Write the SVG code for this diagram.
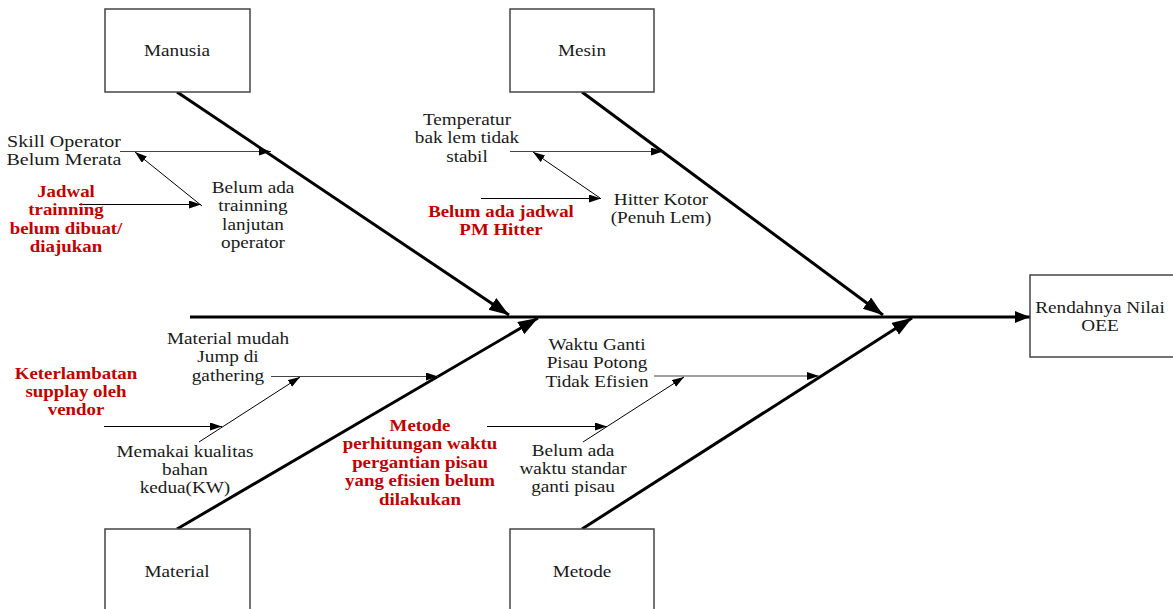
<svg xmlns="http://www.w3.org/2000/svg" width="1173" height="609" viewBox="0 0 1173 609">
<style>
  .box{fill:#fff;stroke:#444;stroke-width:1.5}
  .t{font-family:"Liberation Serif","Times New Roman",serif;font-size:16px;fill:#1a1a1a;text-anchor:middle}
  .r{font-family:"Liberation Serif","Times New Roman",serif;font-size:16px;font-weight:bold;fill:#c00000;text-anchor:middle}
  .bone{stroke:#000;stroke-width:3;fill:none}
  .sub{stroke:#444;stroke-width:1.2;fill:none}
  .arr{stroke:#000;stroke-width:1;fill:none}
</style>
<defs>
  <marker id="big" markerUnits="userSpaceOnUse" markerWidth="22" markerHeight="16" refX="20" refY="7" orient="auto">
    <path d="M0,0 L20,7 L0,14 z" fill="#000"/>
  </marker>
  <marker id="head" markerUnits="userSpaceOnUse" markerWidth="16" markerHeight="14" refX="15" refY="6" orient="auto">
    <path d="M0,0 L15,6 L0,12 z" fill="#000"/>
  </marker>
  <marker id="small" markerUnits="userSpaceOnUse" markerWidth="14" markerHeight="10" refX="12" refY="4" orient="auto">
    <path d="M0,0 L12,4 L0,8 z" fill="#000"/>
  </marker>
</defs>

<g id="connectors">
  <line class="bone" x1="190" y1="317" x2="1030" y2="317" marker-end="url(#head)"/>
  <line class="bone" x1="177" y1="92" x2="509" y2="315" marker-end="url(#big)"/>
  <line class="bone" x1="582" y1="92" x2="883" y2="315" marker-end="url(#big)"/>
  <line class="bone" x1="177" y1="529" x2="538" y2="318" marker-end="url(#big)"/>
  <line class="bone" x1="582" y1="529" x2="912" y2="318" marker-end="url(#big)"/>

  <line class="sub" x1="120" y1="151.5" x2="271" y2="151.5" marker-end="url(#small)"/>
  <line class="arr" x1="202" y1="206" x2="135" y2="152" marker-end="url(#small)"/>
  <line class="arr" x1="79" y1="204.5" x2="201" y2="204.5" marker-end="url(#small)"/>

  <line class="sub" x1="510" y1="151.5" x2="663" y2="151.5" marker-end="url(#small)"/>
  <line class="arr" x1="600" y1="198" x2="533" y2="152" marker-end="url(#small)"/>
  <line class="arr" x1="481" y1="198.5" x2="601" y2="198.5" marker-end="url(#small)"/>

  <line class="sub" x1="271" y1="376.5" x2="438" y2="376.5" marker-end="url(#small)"/>
  <line class="arr" x1="199" y1="442" x2="300" y2="377" marker-end="url(#small)"/>
  <line class="arr" x1="104" y1="426.5" x2="222" y2="426.5" marker-end="url(#small)"/>

  <line class="sub" x1="654" y1="376" x2="819" y2="376" marker-end="url(#small)"/>
  <line class="arr" x1="583" y1="442" x2="684" y2="377" marker-end="url(#small)"/>
  <line class="arr" x1="487" y1="426.5" x2="607" y2="426.5" marker-end="url(#small)"/>
</g>

<g id="manusia">
  <rect class="box" x="105" y="9" width="145" height="83"/>
  <text class="t" transform="translate(177,56) scale(1.2,1)">Manusia</text>
</g>
<g id="mesin">
  <rect class="box" x="510" y="9" width="144" height="83"/>
  <text class="t" transform="translate(582,56) scale(1.2,1)">Mesin</text>
</g>
<g id="material">
  <rect class="box" x="105" y="529" width="145" height="90"/>
  <text class="t" transform="translate(177,577) scale(1.2,1)">Material</text>
</g>
<g id="metode">
  <rect class="box" x="510" y="529" width="144" height="90"/>
  <text class="t" transform="translate(582,577) scale(1.2,1)">Metode</text>
</g>
<g id="oee">
  <rect class="box" x="1030" y="275" width="150" height="82"/>
  <text class="t" transform="translate(1100,313) scale(1.2,1)"><tspan x="0">Rendahnya Nilai</tspan><tspan x="0" dy="18.5">OEE</tspan></text>
</g>

<g id="skill-operator">
  <text class="t" transform="translate(64,146.5) scale(1.25,1)"><tspan x="0">Skill Operator</tspan><tspan x="0" dy="18.5">Belum Merata</tspan></text>
</g>
<g id="jadwal-trainning">
  <text class="r" transform="translate(66,197) scale(1.18,1)"><tspan x="0">Jadwal</tspan><tspan x="0" dy="18.5">trainning</tspan><tspan x="0" dy="18.5">belum dibuat/</tspan><tspan x="0" dy="18.5">diajukan</tspan></text>
</g>
<g id="belum-ada-trainning">
  <text class="t" transform="translate(253,193) scale(1.2,1)"><tspan x="0">Belum ada</tspan><tspan x="0" dy="18.5">trainning</tspan><tspan x="0" dy="18.5">lanjutan</tspan><tspan x="0" dy="18.5">operator</tspan></text>
</g>
<g id="temperatur">
  <text class="t" transform="translate(467,125) scale(1.2,1)"><tspan x="0">Temperatur</tspan><tspan x="0" dy="18.5">bak lem tidak</tspan><tspan x="0" dy="18.5">stabil</tspan></text>
</g>
<g id="hitter-kotor">
  <text class="t" transform="translate(661,205) scale(1.2,1)"><tspan x="0">Hitter Kotor</tspan><tspan x="0" dy="18">(Penuh Lem)</tspan></text>
</g>
<g id="jadwal-pm">
  <text class="r" transform="translate(501,217) scale(1.18,1)"><tspan x="0">Belum ada jadwal</tspan><tspan x="0" dy="18.5">PM Hitter</tspan></text>
</g>
<g id="material-jump">
  <text class="t" transform="translate(228,344) scale(1.2,1)"><tspan x="0">Material mudah</tspan><tspan x="0" dy="18.5">Jump di</tspan><tspan x="0" dy="18.5">gathering</tspan></text>
</g>
<g id="keterlambatan">
  <text class="r" transform="translate(76,378.5) scale(1.18,1)"><tspan x="0">Keterlambatan</tspan><tspan x="0" dy="18.5">supplay oleh</tspan><tspan x="0" dy="18.5">vendor</tspan></text>
</g>
<g id="memakai-kw">
  <text class="t" transform="translate(185,456.5) scale(1.2,1)"><tspan x="0">Memakai kualitas</tspan><tspan x="0" dy="18.5">bahan</tspan><tspan x="0" dy="18.5">kedua(KW)</tspan></text>
</g>
<g id="waktu-ganti">
  <text class="t" transform="translate(597,349.5) scale(1.2,1)"><tspan x="0">Waktu Ganti</tspan><tspan x="0" dy="19">Pisau Potong</tspan><tspan x="0" dy="19">Tidak Efisien</tspan></text>
</g>
<g id="metode-perhitungan">
  <text class="r" transform="translate(420,431) scale(1.18,1)"><tspan x="0">Metode</tspan><tspan x="0" dy="18.5">perhitungan waktu</tspan><tspan x="0" dy="18.5">pergantian pisau</tspan><tspan x="0" dy="18.5">yang efisien belum</tspan><tspan x="0" dy="18.5">dilakukan</tspan></text>
</g>
<g id="waktu-standar">
  <text class="t" transform="translate(573,455.5) scale(1.2,1)"><tspan x="0">Belum ada</tspan><tspan x="0" dy="18.5">waktu standar</tspan><tspan x="0" dy="18.5">ganti pisau</tspan></text>
</g>
</svg>
